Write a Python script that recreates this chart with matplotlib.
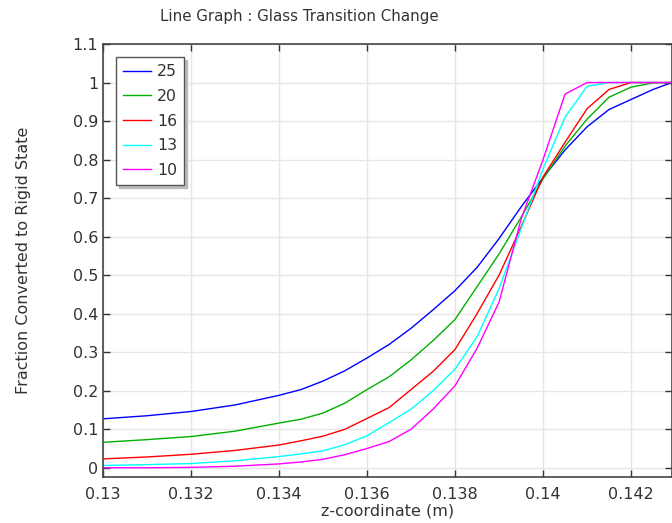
import matplotlib
matplotlib.use("Agg")
import matplotlib.pyplot as plt
from matplotlib.ticker import FuncFormatter

# z-coordinate (m), shared grid for all curves
z = [0.130, 0.131, 0.132, 0.133, 0.134, 0.1345, 0.135, 0.1355, 0.136, 0.1365,
     0.137, 0.1375, 0.138, 0.1385, 0.139, 0.1395, 0.140, 0.1405, 0.141, 0.1415,
     0.142, 0.1425, 0.14293]

# fraction converted
f25 = [0.127, 0.135, 0.146, 0.163, 0.188, 0.203, 0.225, 0.252, 0.285, 0.32,
       0.362, 0.41, 0.46, 0.52, 0.595, 0.677, 0.753, 0.825, 0.885, 0.93,
       0.956, 0.982, 1.0]
f20 = [0.066, 0.073, 0.081, 0.095, 0.116, 0.126, 0.142, 0.168, 0.203, 0.236,
       0.28, 0.33, 0.385, 0.47, 0.555, 0.65, 0.75, 0.835, 0.905, 0.962,
       0.988, 0.999, 1.0]
f16 = [0.023, 0.028, 0.035, 0.045, 0.059, 0.07, 0.082, 0.1, 0.128, 0.156,
       0.203, 0.25, 0.307, 0.4, 0.5, 0.625, 0.755, 0.845, 0.932, 0.982,
       1.0, 1.0, 1.0]
f13 = [0.006, 0.008, 0.011, 0.018, 0.029, 0.036, 0.044, 0.06, 0.083, 0.117,
       0.152, 0.2, 0.256, 0.34, 0.465, 0.62, 0.776, 0.91, 0.99, 1.0,
       1.0, 1.0, 1.0]
f10 = [0.0, 0.0, 0.001, 0.004, 0.01, 0.015, 0.022, 0.034, 0.05, 0.068,
       0.1, 0.152, 0.213, 0.31, 0.43, 0.645, 0.80, 0.97, 1.0, 1.0,
       1.0, 1.0, 1.0]

labels = ['25', '20', '16', '13', '10']
colors = ['#0000ff', '#00b000', '#ff0000', '#00ffff', '#ff00ff']

xticks = [0.13, 0.132, 0.134, 0.136, 0.138, 0.14, 0.142]
yticks = [0, 0.1, 0.2, 0.3, 0.4, 0.5, 0.6, 0.7, 0.8, 0.9, 1.0, 1.1]

fig = plt.figure(figsize=(6.72, 5.23), dpi=100)
ax = fig.add_axes([103/672, 1 - 477/523, 1 - 103/672, 433/523])

for ys, lab, c in zip([f25, f20, f16, f13, f10], labels, colors):
    ax.plot(z, ys, color=c, lw=1.0, label=lab)

ax.set_xlim(0.13, 0.14293)
ax.set_ylim(-0.024, 1.1)
ax.set_xticks(xticks)
ax.set_yticks(yticks)
fmt = FuncFormatter(lambda v, p: '%g' % round(v, 4))
ax.xaxis.set_major_formatter(fmt)
ax.yaxis.set_major_formatter(fmt)
ax.tick_params(direction='in', top=True, right=True, length=5, width=1,
               labelsize=11.5, labelcolor='#333333', colors='#333333')
ax.tick_params(axis='x', pad=7)
ax.grid(True, color='#e6e6e6', lw=1)
ax.set_axisbelow(True)
for s in ax.spines.values():
    s.set_color('#444444')
    s.set_linewidth(1.2)

ax.set_xlabel('z-coordinate (m)', fontsize=11.5, color='#333333', labelpad=1)
ax.set_ylabel('Fraction Converted to Rigid State', fontsize=11.5,
              color='#333333', labelpad=30)
fig.text(299/672, 1 - 17/523, 'Line Graph : Glass Transition Change',
         ha='center', va='center', fontsize=10.8, color='#333333')

leg = ax.legend(loc='upper left', bbox_to_anchor=(0.023, 0.97), borderaxespad=0,
                fancybox=False, shadow={'color': '#bbbbbb', 'alpha': 1,
                                        'ox': 2, 'oy': -2},
                fontsize=11.3, handlelength=1.75,
                labelspacing=0.62, borderpad=0.45, handletextpad=0.4)
leg.get_frame().set_edgecolor('#555555')
leg.get_frame().set_linewidth(1.0)
for t in leg.get_texts():
    t.set_color('#333333')

fig.savefig('out.png', dpi=100)
